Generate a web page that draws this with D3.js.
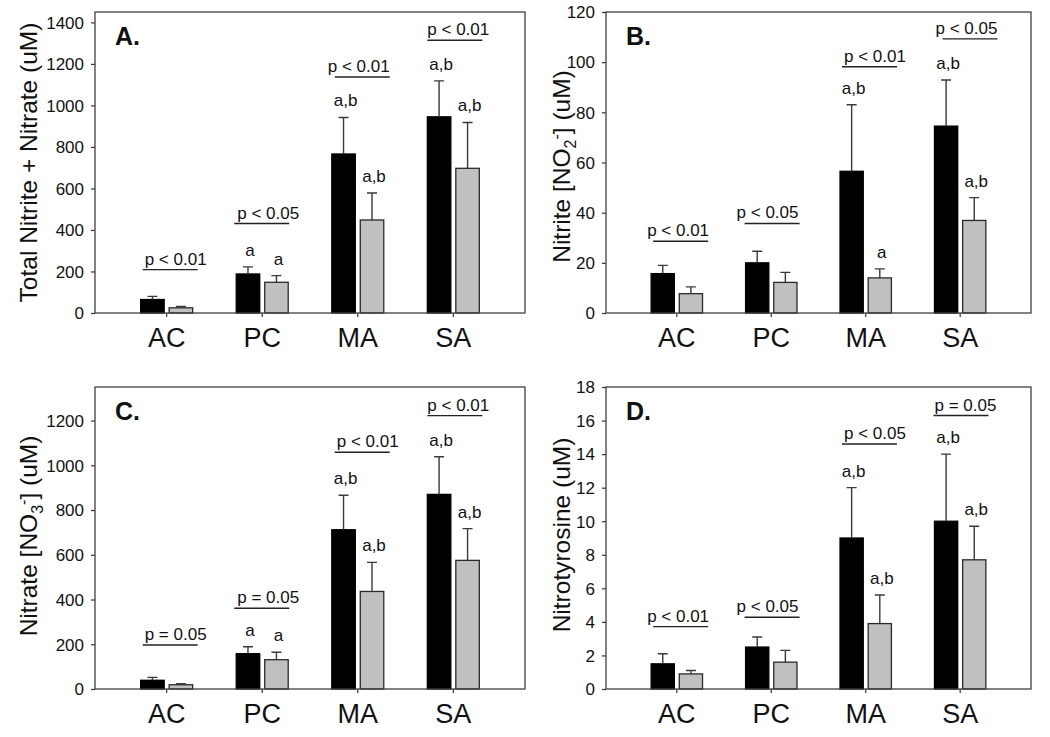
<!DOCTYPE html>
<html><head><meta charset="utf-8">
<script src="https://cdn.jsdelivr.net/npm/d3@7"></script>
<style>
body{margin:0;background:#fff}
svg{display:block}
text{font-family:"Liberation Sans",Arial,Helvetica,sans-serif;fill:#111}
</style>
</head><body>
<svg id="chart" width="1050" height="737"></svg>
<script>
// ---------- DATA ----------
const categories = ["AC", "PC", "MA", "SA"];
const series = ["black", "gray"];

// Panel A: Total Nitrite + Nitrate (uM)
const totalBlack = [65, 188, 766, 945];
const totalBlackErr = [15, 34, 176, 173];
const totalGray = [25, 148, 448, 697];
const totalGrayErr = [6, 32, 130, 221];
const totalLettersBlack = ["", "a", "a,b", "a,b"];
const totalLettersGray = ["", "a", "a,b", "a,b"];
const totalPText = ["p < 0.01", "p < 0.05", "p < 0.01", "p < 0.01"];
const totalPLevel = [209, 431, 1137, 1314];
const totalTicks = [0, 200, 400, 600, 800, 1000, 1200, 1400];

// Panel B: Nitrite [NO2-] (uM)
const nitriteBlack = [15.7, 20.0, 56.5, 74.5];
const nitriteBlackErr = [3.3, 4.6, 26.5, 18.4];
const nitriteGray = [7.7, 12.2, 14.0, 36.9];
const nitriteGrayErr = [2.7, 4.0, 3.6, 9.1];
const nitriteLettersBlack = ["", "", "a,b", "a,b"];
const nitriteLettersGray = ["", "", "a", "a,b"];
const nitritePText = ["p < 0.01", "p < 0.05", "p < 0.01", "p < 0.05"];
const nitritePLevel = [28.6, 35.7, 98.2, 109.3];
const nitriteTicks = [0, 20, 40, 60, 80, 100, 120];

// Panel C: Nitrate [NO3-] (uM)
const nitrateBlack = [39, 158, 712, 870];
const nitrateBlackErr = [13, 31, 154, 168];
const nitrateGray = [19, 131, 436, 575];
const nitrateGrayErr = [5, 33, 130, 142];
const nitrateLettersBlack = ["", "a", "a,b", "a,b"];
const nitrateLettersGray = ["", "a", "a,b", "a,b"];
const nitratePText = ["p = 0.05", "p = 0.05", "p < 0.01", "p < 0.01"];
const nitratePLevel = [197, 361, 1058, 1222];
const nitrateTicks = [0, 200, 400, 600, 800, 1000, 1200];

// Panel D: Nitrotyrosine (uM)
const tyrBlack = [1.5, 2.5, 9.0, 10.0];
const tyrBlackErr = [0.6, 0.6, 3.0, 4.0];
const tyrGray = [0.9, 1.6, 3.9, 7.7];
const tyrGrayErr = [0.2, 0.7, 1.7, 2.0];
const tyrLettersBlack = ["", "", "a,b", "a,b"];
const tyrLettersGray = ["", "", "a,b", "a,b"];
const tyrPText = ["p < 0.01", "p < 0.05", "p < 0.05", "p = 0.05"];
const tyrPLevel = [3.72, 4.28, 14.6, 16.3];
const tyrTicks = [0, 2, 4, 6, 8, 10, 12, 14, 16, 18];

// ---------- LAYOUT ----------
const panels = [
  { label: "A.", box: {l: 95, r: 525, t: 12, b: 313}, yMax: 1450, ticks: totalTicks,
    black: totalBlack, blackErr: totalBlackErr, gray: totalGray, grayErr: totalGrayErr,
    lb: totalLettersBlack, lg: totalLettersGray, pText: totalPText, pLevel: totalPLevel,
    lineShift: [2, -2, 3, 0], textShift: [2, 3, -7, 0],
    title: [{t: "Total Nitrite + Nitrate (uM)"}], titleX: 37, titleDy: 0 },
  { label: "B.", box: {l: 606, r: 1031, t: 12, b: 313}, yMax: 120, ticks: nitriteTicks,
    black: nitriteBlack, blackErr: nitriteBlackErr, gray: nitriteGray, grayErr: nitriteGrayErr,
    lb: nitriteLettersBlack, lg: nitriteLettersGray, pText: nitritePText, pLevel: nitritePLevel,
    lineShift: [2, -1, 2, 8], textShift: [-6, -8, 2, -7],
    title: [{t: "Nitrite [NO"}, {t: "2", sub: true}, {t: "-", sup: true}, {t: "] (uM)"}], titleX: 570, titleDy: 4 },
  { label: "C.", box: {l: 95, r: 525, t: 387, b: 689}, yMax: 1350, ticks: nitrateTicks,
    black: nitrateBlack, blackErr: nitrateBlackErr, gray: nitrateGray, grayErr: nitrateGrayErr,
    lb: nitrateLettersBlack, lg: nitrateLettersGray, pText: nitratePText, pLevel: nitratePLevel,
    lineShift: [2, -2, 3, 0], textShift: [2, 3, 2, 0],
    title: [{t: "Nitrate [NO"}, {t: "3", sub: true}, {t: "-", sup: true}, {t: "] (uM)"}], titleX: 37, titleDy: -2 },
  { label: "D.", box: {l: 606, r: 1031, t: 387, b: 689}, yMax: 18, ticks: tyrTicks,
    black: tyrBlack, blackErr: tyrBlackErr, gray: tyrGray, grayErr: tyrGrayErr,
    lb: tyrLettersBlack, lg: tyrLettersGray, pText: tyrPText, pLevel: tyrPLevel,
    lineShift: [2, -1, 2, -1], textShift: [-6, -8, 2, 1],
    title: [{t: "Nitrotyrosine (uM)"}], titleX: 570, titleDy: -3 }
];

const svg = d3.select("#chart");
const fillColor = {black: "#000000", gray: "#c0c0c0"};
const strokeColor = {black: "#000000", gray: "#2a2a2a"};

panels.forEach(p => {
  const B = p.box;
  const g = svg.append("g");
  const x0 = d3.scaleBand().domain(categories).range([B.l, B.r]).paddingInner(0).paddingOuter(0.25);
  const x1 = d3.scaleBand().domain(series)
      .range([x0.bandwidth() * 0.228, x0.bandwidth() * 0.772]).paddingInner(0.175);
  const y = d3.scaleLinear().domain([0, p.yMax]).range([B.b, B.t]);

  const rows = categories.map((c, i) => ({
    c, i,
    vals: [
      {s: "black", v: p.black[i], e: p.blackErr[i], lab: p.lb[i]},
      {s: "gray", v: p.gray[i], e: p.grayErr[i], lab: p.lg[i]}
    ]
  }));

  // y axis
  const ya = g.append("g").attr("transform", `translate(${B.l},0)`)
    .call(d3.axisLeft(y).tickValues(p.ticks).tickSizeInner(4).tickSizeOuter(0).tickPadding(7).tickFormat(d3.format("d")));
  ya.select(".domain").remove();
  ya.selectAll("line").attr("stroke", "#333").attr("stroke-width", 1.2);
  ya.selectAll("text").style("font-size", "17px").attr("fill", "#111").attr("dy", "0.34em");

  // x axis
  const xa = g.append("g").attr("transform", `translate(0,${B.b})`)
    .call(d3.axisBottom(x0).tickSizeInner(4).tickSizeOuter(0).tickPadding(11));
  xa.select(".domain").remove();
  xa.selectAll("line").attr("stroke", "#333").attr("stroke-width", 1.2);
  xa.selectAll("text").style("font-size", "27px").attr("fill", "#111");

  // bars
  const grp = g.selectAll(".grp").data(rows).join("g")
    .attr("transform", d => `translate(${x0(d.c)},0)`);
  grp.selectAll("rect").data(d => d.vals).join("rect")
    .attr("x", d => x1(d.s))
    .attr("width", x1.bandwidth())
    .attr("y", d => y(d.v))
    .attr("height", d => y(0) - y(d.v))
    .attr("fill", d => fillColor[d.s])
    .attr("stroke", d => strokeColor[d.s])
    .attr("stroke-width", 1.3);

  // error bars (upper only)
  grp.selectAll("path.err").data(d => d.vals).join("path").attr("class", "err")
    .attr("d", d => {
      const cx = x1(d.s) + x1.bandwidth() / 2;
      const yt = y(d.v + d.e), yb = y(d.v);
      return `M${cx},${yb}V${yt}M${cx - 5},${yt}H${cx + 5}`;
    })
    .attr("fill", "none").attr("stroke", "#3a3a3a").attr("stroke-width", 1.4);

  // significance letters
  grp.selectAll("text.lab").data(d => d.vals.filter(v => v.lab)).join("text").attr("class", "lab")
    .attr("x", d => x1(d.s) + x1.bandwidth() / 2 + 2)
    .attr("y", d => y(d.v + d.e) - 11)
    .attr("text-anchor", "middle")
    .style("font-size", "17px")
    .text(d => d.lab);

  // p-value lines
  rows.forEach(r => {
    const lx = x0(r.c) + x1("black") + p.lineShift[r.i];
    const ly = y(p.pLevel[r.i]);
    g.append("line").attr("x1", lx).attr("x2", lx + 55).attr("y1", ly).attr("y2", ly)
      .attr("stroke", "#222").attr("stroke-width", 1.4);
    g.append("text").attr("x", lx + p.textShift[r.i]).attr("y", ly - 5)
      .style("font-size", "17px").text(p.pText[r.i]);
  });

  // frame
  g.append("rect").attr("x", B.l).attr("y", B.t).attr("width", B.r - B.l).attr("height", B.b - B.t)
    .attr("fill", "none").attr("stroke", "#404040").attr("stroke-width", 1.3);

  // panel label
  g.append("text").attr("x", B.l + 20).attr("y", B.t + 33)
    .style("font-size", "25px").style("font-weight", "bold").text(p.label);

  // y title
  const tt = g.append("text")
    .attr("transform", `translate(${p.titleX},${(B.t + B.b) / 2 + p.titleDy}) rotate(-90)`)
    .attr("text-anchor", "middle")
    .style("font-size", "24.5px");
  p.title.forEach(part => {
    const ts = tt.append("tspan").text(part.t);
    if (part.sub) ts.attr("dy", 6).style("font-size", "16px");
    else if (part.sup) ts.attr("dy", -14).style("font-size", "16px");
    else if (tt.selectAll("tspan").size() > 1) ts.attr("dy", 8);
  });
});
</script>
</body></html>
